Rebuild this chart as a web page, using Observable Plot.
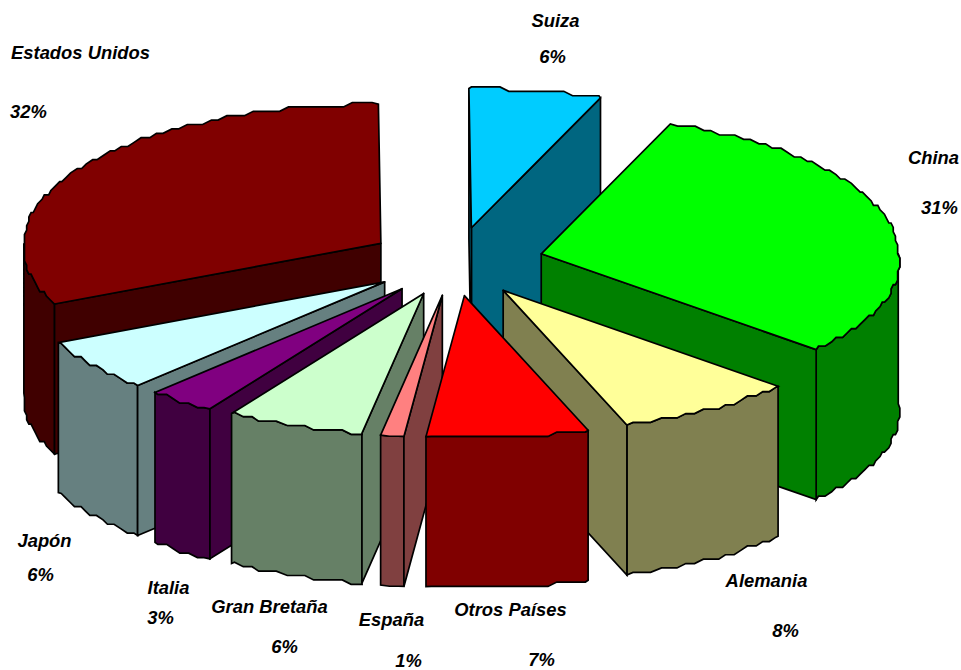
<!DOCTYPE html>
<html lang="es">
<head>
<meta charset="utf-8">
<title>Participación por país</title>
<script src="https://cdn.jsdelivr.net/npm/d3@7"></script>
<script src="https://cdn.jsdelivr.net/npm/@observablehq/plot@0.6"></script>
<style>
  html, body { margin: 0; padding: 0; background: #fff; overflow: hidden; }
  svg { display: block; }
</style>
</head>
<body>
<div id="chart"></div>
<script>
// Share of each country, clockwise from twelve o'clock.
const countries = ["Suiza", "China", "Alemania", "Otros Países", "España", "Gran Bretaña", "Italia", "Japón", "Estados Unidos"];
const shares = [6, 31, 8, 7, 1, 6, 3, 6, 32];
const topColors = ["#00CCFF", "#00FF00", "#FFFF99", "#FF0000", "#FF8080", "#CCFFCC", "#800080", "#CCFFFF", "#800000"];
const wallColors = ["#006680", "#008000", "#808050", "#800000", "#804040", "#668066", "#400040", "#668080", "#400000"];

// Back slices are painted first so that nearer ones overlap them.
const paintOrder = ["Suiza", "Estados Unidos", "China", "Japón", "Italia", "Alemania", "Gran Bretaña", "España", "Otros Países"];

// Label anchors in chart units: name line and percentage line.
const nameAnchors = [[555, 21], [933, 158], [766, 581], [510, 610], [391, 620], [269, 607], [168, 588], [44, 541], [80, 53]];
const shareAnchors = [[552, 57], [939, 208], [785, 631], [541, 660], [408, 661], [284, 647], [160, 618], [40, 575], [28, 112]];

// Shape of the extruded, exploded pie.
const pie = {
  cx: 455, cy: 261, radius: 357, tilt: 0.39, thickness: 150, explode: 88, startAngle: -0.4,
  nearWiden: 0.05, nearLean: 6, nearDepth: 0.02, rimStep: 1.5, snapX: 2.2, snapY: 4.4
};

const rad = (deg) => (deg * Math.PI) / 180;
const dirX = (deg) => Math.sin(rad(deg));
const dirY = (deg) => -pie.tilt * Math.cos(rad(deg));
const nearness = (a) => Math.max(0, -Math.cos(rad(a)));

// Point on the rim; the half nearest the viewer reads slightly larger and leans to the right.
const rimX = (a) => pie.radius * dirX(a) * (1 + pie.nearWiden * nearness(a)) + pie.nearLean * nearness(a);
const rimY = (a) => pie.radius * dirY(a) * (1 + pie.nearDepth * nearness(a));

// Rim polyline of a slice, relative to its apex; coarse vertex rounding gives the stepped outline.
function rim(from, to) {
  const angles = [from];
  for (let a = Math.ceil(from / pie.rimStep + 1e-6) * pie.rimStep; a < to - 1e-6; a += pie.rimStep) angles.push(a);
  angles.push(to);
  return angles.map((a, i) => {
    const x = rimX(a);
    const y = rimY(a);
    if (i === 0 || i === angles.length - 1) return [x, y];
    return [Math.round(x / pie.snapX) * pie.snapX, Math.round(y / pie.snapY) * pie.snapY];
  });
}

// Turn the shares into closed faces, each with its fill.
let running = pie.startAngle;
const slices = new Map(countries.map((name, i) => {
  const sweep = (shares[i] / d3.sum(shares)) * 360;
  const from = running;
  const to = running + sweep;
  running = to;
  const mid = (from + to) / 2;
  return [name, {name, from, to, top: topColors[i], wall: wallColors[i],
    ax: pie.cx + pie.explode * dirX(mid), ay: pie.cy + pie.explode * dirY(mid)}];
}));

const faces = [];
function addFace(id, color, pts, s) {
  [...pts, pts[0]].forEach(([x, y, drop = 0]) => faces.push({id, color, x: s.ax + x, y: s.ay + y + drop}));
}

paintOrder.forEach((name) => {
  const s = slices.get(name);
  const h = pie.thickness;

  // Curved outer wall, only where the rim faces the viewer.
  const a0 = Math.max(s.from, 90);
  const a1 = Math.min(s.to, 270);
  if (a1 > a0) {
    const upper = rim(a0, a1).map(([x, y]) => [x, y, 0]);
    const lower = rim(a0, a1).reverse().map(([x, y]) => [x, y, h]);
    addFace(`${name}-rim`, s.wall, [...upper, ...lower], s);
  }
  // Flat cut faces, only where they turn toward the viewer.
  [[s.to, Math.sin(rad(s.to)) > 0], [s.from, Math.sin(rad(s.from)) < 0]].forEach(([a, visible], i) => {
    if (!visible) return;
    const ex = rimX(a);
    const ey = rimY(a);
    addFace(`${name}-cut${i}`, s.wall, [[0, 0, 0], [ex, ey, 0], [ex, ey, h], [0, 0, h]], s);
  });
  // Upper face.
  addFace(`${name}-top`, s.top, [[0, 0], ...rim(s.from, s.to)], s);
});

const nameLabels = countries.map((name, i) => ({text: name, x: nameAnchors[i][0], y: nameAnchors[i][1]}));
const shareLabels = countries.map((name, i) => ({text: `${shares[i]}%`, x: shareAnchors[i][0], y: shareAnchors[i][1]}));
const textStyle = {
  x: "x", y: "y", text: "text", fill: "black", fontSize: 18.4,
  fontFamily: "'Liberation Sans', Arial, sans-serif", fontWeight: "bold", fontStyle: "italic", textAnchor: "middle"
};

const chart = Plot.plot({
  width: 961,
  height: 670,
  margin: 0,
  x: {domain: [0, 961], range: [0, 961], axis: null},
  y: {domain: [0, 670], range: [0, 670], axis: null},
  color: {type: "identity"},
  style: {background: "white"},
  marks: [
    Plot.line(faces, {
      x: "x", y: "y", z: "id", fill: (d) => d.color, stroke: "black",
      strokeWidth: 1.7, strokeLinejoin: "miter", strokeMiterlimit: 4
    }),
    Plot.text(nameLabels, textStyle),
    Plot.text(shareLabels, textStyle)
  ]
});
document.getElementById("chart").append(chart);
</script>
</body>
</html>
